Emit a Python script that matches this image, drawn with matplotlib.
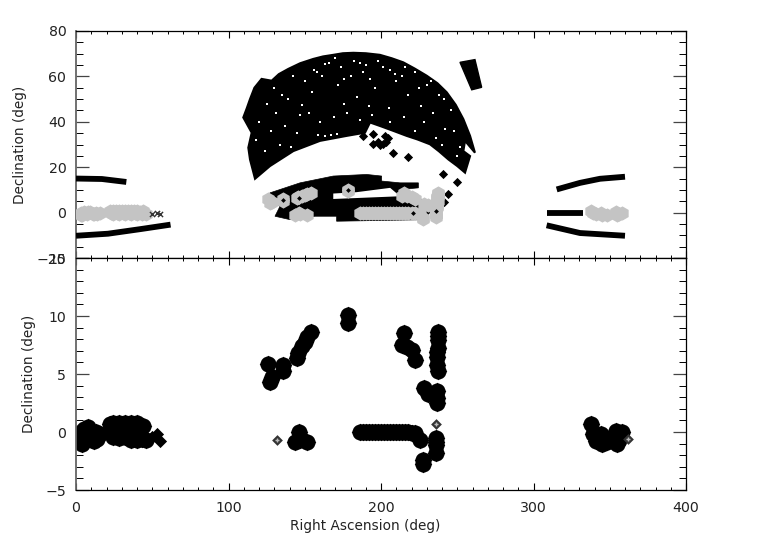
import matplotlib
matplotlib.use("Agg")
import matplotlib.pyplot as plt
from matplotlib.ticker import MultipleLocator

plt.rcParams['font.family'] = ['DejaVu Sans']

# main survey footprint outlines (RA, Dec)
north_ra = [117.4,114.1,113,115.2,109.7,112,114.1,117,121.7,128.3,133,139.2,147,155.6,162,168.7,175,181.9,190,199.3,207,214.6,222,230,237,243.1,249,254,258.4,261.6,255.1,254,258.4,255.1,250,244.2,238,232.1,224,216.8,208.1,200,192.8,189.5,177.5,160,142.5,127.2]
north_dec = [14.9,23.4,28.6,35.2,41.9,46,50,55,58.9,58.1,61,63.3,65.8,67.7,68.8,69.5,70.2,70.4,70.2,69.5,68,66.2,63.5,60.3,57,53,47.5,41.2,33.8,26.4,31.6,27.1,24.9,17.6,20.5,23.4,27,30.1,32.2,33.8,36,38,39.7,35.2,33.8,31.6,27.1,20.5]
patch_ra = [251.8,261.6,266,259.5]
patch_dec = [66.2,67.4,55.2,54.1]
equ_ra = [127.2,146.9,168.7,190.6,200.4,200.4,212.5,224.5,224.5,212.5,225.6,232.1,230,170.9,170.9,156.7,140.3,130.5,133.8,127.2]
equ_dec = [8.7,13.1,16.1,16.8,16.1,13.9,13.1,13.1,10.9,10.2,6.5,0.6,-3.1,-3.8,-1.6,-1.6,-3.1,-1.6,2.8,5.7]
gap_ra = [168.7,184,206,212.5,168.7]
gap_dec = [8.4,9,10.9,7.2,6]

# stripes
s1_ra = [0,17,33]; s1_dec = [15,14.8,13.5]
s2_ra = [0,21,43,62]; s2_dec = [-10.2,-9.3,-7.2,-5.3]
s3_ra = [315.2,330.5,343.6,360]; s3_dec = [10.2,13.1,14.9,15.8]
s4_ra = [308.6,332.6]; s4_dec = [-0.15,-0.15]
s5_ra = [308.6,330.5,360]; s5_dec = [-5.6,-9,-10.2]

# isolated clumps in the northern gap
clump_ra = [195,195,201.5,204.8,207.7,218,240.4,250,244.2,241.5,188.4,202.6,199.3,198,203]
clump_dec = [34.5,30.1,30.1,33,26.4,24.6,17.2,13.6,8,4.6,33.8,33.8,29.6,31,31]

# holes seen in the footprint
hole_ra = [163.3,148,163,167,171,130,135,142,150,158,166,174,182,190,198,206,214,222,230,238,246,125,131,139,147,155,172,180,188,196,210,218,226,234,242,120,128,137,145,153,160,176,184,192,205,215,228,236,248,252,118,124,134,141,159,169,178,222,240,250,186,194,206,156,161,170,176,186,193,201,209,216,225,233,241]
hole_dec = [65.5,47.5,33.9,34.2,34.6,55,52,60,58,62,66,64,67,65,67,63,60,62,56,52,45,48,44,50,43,53,56,60,62,55,58,52,47,44,37,40,36,38,35,44,40,48,51,47,46,42,40,33,36,29,32,27,30,29,34,42,44,36,30,25,41,43,40,63,60,68,59,66,59,64,61,64,55,58,50]

# quasar-like targets
qso_ra = [3,3,5,7,9,11,13,14,4,8,12,16,22,24,26,28,30,32,34,36,38,40,42,44,46,24,28,32,36,40,23,27,31,35,39,43,
          178.6,178.6,153.9,151.7,150.1,148,145.8,145.1,125.7,135.9,135.9,128.3,127.2,
          215.3,213.5,216.8,220,222.3,237.6,237.6,237.6,237.6,236.5,236.5,237,237.6,228.2,231,236.5,237,237,
          236,236,236,236,227.3,227.3,186,188,190,192,194,196,198,200,202,204,206,208,210,212,214,216,218,220,222,225.6,146.4,143.6,151.2,146.9,
          338,339,341,345,344,354,356,358,355,348]
qso_dec = [0,-0.9,0.3,-0.6,0.1,-0.7,0,-0.6,-1,0.4,-0.8,-0.2,0.7,0.8,0.7,0.8,0.7,0.8,0.7,0.8,0.7,0.8,0.2,0.5,-0.7,-0.4,-0.5,-0.4,-0.7,-0.7,0,0,-0.1,0,-0.1,-0.6,
           10.1,9.4,8.6,8.2,7.8,7.4,6.8,6.35,5.9,5.8,5.3,4.7,4.3,
           8.5,7.5,7.35,7.07,6.2,8.65,8.3,7.93,7.2,6.9,6.5,5.8,5.3,3.76,3.3,3.5,2.9,2.5,
           -0.55,-0.85,-1.1,-1.85,-2.4,-2.8,0,0,0,0,0,0,0,0,0,0,0,0,0,0,0,0,0,-0.1,-0.1,-0.7,0,-0.85,-0.85,-0.7,
           0.7,-0.2,-0.8,-1,-0.2,0.1,-0.7,0,-1,-0.9]
ring_ra = [136,146.4,178.6,221,236]
ring_dec = [5.7,6.5,9.9,0,0.7]
faint_ra = [132,236,362]
faint_dec = [-0.7,0.7,-0.6]
edge_ra = [50,53,55]
edge_dec = [-0.4,-0.2,-0.8]

W, H = 763, 545
fig = plt.figure(figsize=(W/100, H/100), dpi=100, facecolor='white')
L, R = 76/W, 686/W
top = fig.add_axes([L, 1-258/H, R-L, (258-31)/H])
bot = fig.add_axes([L, 1-490/H, R-L, (490-258)/H])

# top panel
top.fill(north_ra, north_dec, color='black', lw=1.5, zorder=1)
top.fill(patch_ra, patch_dec, color='black', lw=1, zorder=1)
top.fill(equ_ra, equ_dec, color='black', lw=0.5, zorder=1)
top.fill(gap_ra, gap_dec, color='white', lw=0, zorder=2)
top.scatter(clump_ra, clump_dec, marker='D', s=22, color='black', lw=0, zorder=3)
top.scatter(hole_ra, hole_dec, marker='s', s=2.5, color='white', lw=0, zorder=3)
for a, b in [(s1_ra, s1_dec), (s2_ra, s2_dec), (s3_ra, s3_dec), (s4_ra, s4_dec), (s5_ra, s5_dec)]:
    top.plot(a, b, color='black', lw=4.2, solid_capstyle='butt', zorder=3)
top.scatter(qso_ra, qso_dec, marker='h', s=105, color='#c4c4c4', lw=0, zorder=4)
top.scatter(edge_ra, edge_dec, marker='x', s=14, color='#333333', lw=1, zorder=5)
top.scatter(ring_ra, ring_dec, marker='D', s=45, color='#c4c4c4', lw=0, zorder=5)
top.scatter(ring_ra, ring_dec, marker='D', s=6, color='black', lw=0, zorder=6)
top.set_ylim(-20, 80)
top.set_yticks([-20, 0, 20, 40, 60, 80])
top.yaxis.set_minor_locator(MultipleLocator(5))
top.tick_params(labelbottom=False)

# bottom panel
bot.scatter(qso_ra, qso_dec, marker='D', s=80, color='black', lw=0, zorder=2)
bot.scatter(qso_ra, qso_dec, marker='o', s=135, color='black', lw=0, zorder=2)
bot.scatter(edge_ra, edge_dec, marker='D', s=45, color='black', lw=0, zorder=2)
bot.scatter(faint_ra, faint_dec, marker='D', s=30, color='#333333', lw=0, zorder=3)
bot.scatter(faint_ra, faint_dec, marker='+', s=12, color='#bbbbbb', lw=1, zorder=4)
bot.set_ylim(-5, 15)
bot.set_yticks([-5, 0, 5, 10, 15])
bot.yaxis.set_minor_locator(MultipleLocator(1))
bot.set_xlabel('Right Ascension (deg)', fontsize=9.8, color='#222222', labelpad=3, x=0.474)

for ax in (top, bot):
    ax.set_xlim(0, 400)
    ax.set_xticks([0, 100, 200, 300, 400])
    ax.xaxis.set_minor_locator(MultipleLocator(10))
    ax.set_ylabel('Declination (deg)', fontsize=9.8, color='#222222', labelpad=7)
    ax.tick_params(axis='x', which='major', direction='in', top=True, length=5, width=0.8, labelsize=10.2, labelcolor='#222222', pad=8)
    ax.tick_params(axis='x', which='minor', direction='in', top=True, length=2.5, width=0.7)
    ax.tick_params(axis='y', which='major', direction='in', right=True, length=9.5, width=0.9, labelsize=10.2, labelcolor='#222222', pad=7, color='#444444')
    ax.tick_params(axis='y', which='minor', direction='in', right=True, length=4.7, width=0.7)
    for s in ax.spines.values():
        s.set_linewidth(0.9)
    ax.spines['left'].set_color('#666666')
    ax.spines['left'].set_linewidth(1.3)
fig.savefig('out.png', dpi=100, facecolor='white')
